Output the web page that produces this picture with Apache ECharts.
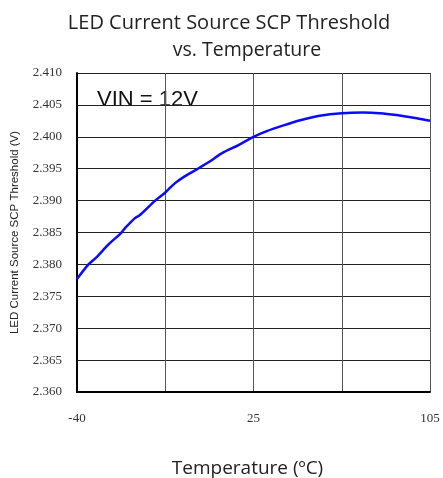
<!DOCTYPE html>
<html>
<head>
<meta charset="utf-8">
<script src="https://cdn.jsdelivr.net/npm/echarts@6/dist/echarts.min.js"></script>
<style>
  html, body { margin: 0; padding: 0; background: #fff; }
  #main { width: 443px; height: 478px; }
</style>
</head>
<body>
<div id="main"></div>
<script>
// x positions are in grid divisions (0..4), the axis is labelled -40 / 25 / 105
const xTickLabels = ['-40', '', '25', '', '105'];
const xPos = [0, 0.13, 0.22, 0.355, 0.49, 0.545, 0.66, 0.71, 0.885, 0.995, 1.108, 1.22, 1.37, 1.49,
    1.64, 1.83, 2.0, 2.15, 2.34, 2.53, 2.75, 3.0, 3.24, 3.43, 3.62, 3.85, 4.0];
const threshold = [2.3777, 2.3800, 2.3811, 2.3831, 2.3848, 2.3857, 2.3873, 2.3877, 2.3900, 2.3912,
    2.3927, 2.3938, 2.3950, 2.3960, 2.3974, 2.3987, 2.4000, 2.4009, 2.4018, 2.4026, 2.4033,
    2.4037, 2.4038, 2.4037, 2.4034, 2.4029, 2.4025];

const chart = echarts.init(document.getElementById('main'));

const option = {
    animation: false,
    title: [
        {
            text: 'LED Current Source SCP Threshold',
            left: 224, top: 8, textAlign: 'center',
            textStyle: { fontFamily: 'Open Sans', fontSize: 20, fontWeight: 'normal', color: '#222' }
        },
        {
            text: 'vs. Temperature',
            left: 242, top: 35, textAlign: 'center',
            textStyle: { fontFamily: 'Open Sans', fontSize: 19.5, fontWeight: 'normal', color: '#222' }
        }
    ],
    graphic: [
        {
            type: 'text',
            left: 97, top: 89,
            style: { text: 'VIN = 12V', font: '22px "Liberation Sans"', fill: '#111' }
        }
    ],
    // keep the plot box fixed, the axis name sits low in the picture
    grid: { left: 77, right: 13, top: 73, bottom: 86, outerBoundsMode: 'none' },
    xAxis: {
        type: 'value',
        min: 0, max: 4, interval: 1,
        name: 'Temperature (ºC)',
        nameLocation: 'middle',
        nameGap: 67,
        nameTextStyle: { fontFamily: 'Open Sans', fontSize: 19, color: '#222', padding: [0, 12, 0, 0] },
        axisLine: { show: true, lineStyle: { color: '#000', width: 2 } },
        axisTick: { show: false },
        axisLabel: {
            margin: 20,
            fontFamily: 'Liberation Serif', fontSize: 13, color: '#333',
            formatter: v => xTickLabels[Math.round(v)]
        },
        splitLine: { show: true, lineStyle: { color: '#555', width: 1 } }
    },
    yAxis: {
        type: 'value',
        min: 2.36, max: 2.41, interval: 0.005,
        name: 'LED Current Source SCP Threshold (V)',
        nameLocation: 'middle',
        nameGap: 56,
        nameTextStyle: { fontFamily: 'Liberation Sans', fontSize: 11.5, color: '#222' },
        axisLine: { show: true, lineStyle: { color: '#000', width: 2 } },
        axisTick: { show: false },
        axisLabel: {
            margin: 15,
            fontFamily: 'Liberation Serif', fontSize: 13, color: '#333',
            formatter: v => v.toFixed(3)
        },
        splitLine: { show: true, lineStyle: { color: '#222', width: 1 } }
    },
    series: [
        {
            type: 'line',
            data: xPos.map((x, i) => [x, threshold[i]]),
            showSymbol: false,
            smooth: 0.3,
            lineStyle: { color: '#0a0aff', width: 2.5 }
        }
    ]
};

chart.setOption(option);
</script>
</body>
</html>
